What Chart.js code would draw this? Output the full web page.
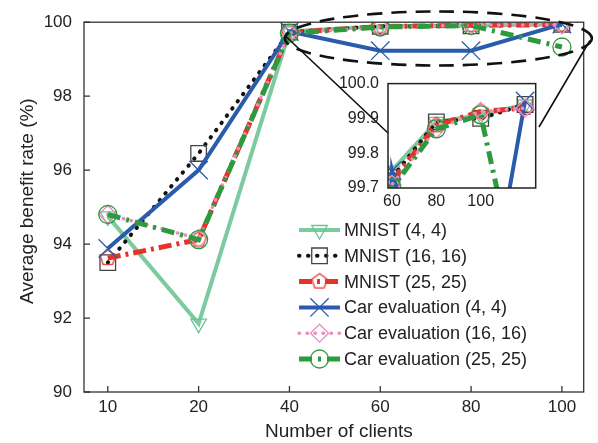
<!DOCTYPE html>
<html>
<head>
<meta charset="utf-8">
<script src="https://cdn.jsdelivr.net/npm/chart.js@4.4.1/dist/chart.umd.min.js"></script>
<style>
  body { margin: 0; background: #fff; }
  #wrap { position: relative; width: 598px; height: 443px; }
  #main { position: absolute; left: 0; top: 0; }
  #inset { position: absolute; left: 330px; top: 65px; }
</style>
</head>
<body>
<div id="wrap">
  <canvas id="main" width="598" height="443"></canvas>
  <canvas id="inset" width="220" height="150"></canvas>
</div>
<script>
// data
const clients = ['10', '20', '40', '60', '80', '100'];
const seriesNames = ['MNIST (4, 4)', 'MNIST (16, 16)', 'MNIST (25, 25)',
  'Car evaluation (4, 4)', 'Car evaluation (16, 16)', 'Car evaluation (25, 25)'];
const mnist4 = [94.75, 91.85, 99.75, 99.89, 99.91, 99.94];
const mnist16 = [93.5, 96.45, 99.73, 99.89, 99.9, 99.94];
const mnist25 = [93.62, 94.12, 99.72, 99.88, 99.92, 99.93];
const car4 = [93.88, 96.0, 99.75, 99.23, 99.23, 99.95];
const car16 = [94.8, 94.15, 99.71, 99.87, 99.92, 99.93];
const car25 = [94.8, 94.12, 99.7, 99.87, 99.91, 99.33];
const yTicks = [90, 92, 94, 96, 98, 100];
const insetYTicks = [99.7, 99.8, 99.9, 100.0];
const insetXTicks = ['60', '80', '100'];

const FONT = '"Liberation Sans", Arial, sans-serif';
const TXT = '#222';

// pentagon marker (no built-in style for it)
function pentagon(color, r) {
  const c = document.createElement('canvas');
  const s = Math.ceil(r * 2 + 4);
  c.width = s; c.height = s;
  const g = c.getContext('2d');
  g.strokeStyle = color; g.lineWidth = 1.3;
  g.beginPath();
  for (let k = 0; k < 5; k++) {
    const a = -Math.PI / 2 + k * 2 * Math.PI / 5;
    const px = s / 2 + r * Math.cos(a), py = s / 2 + r * Math.sin(a);
    k ? g.lineTo(px, py) : g.moveTo(px, py);
  }
  g.closePath(); g.stroke();
  return c;
}

const styles = [
  { color: 'rgba(110,196,150,0.9)', width: 4, dash: [], cap: 'butt', marker: 'triangle', rot: 180, r: 9, mcolor: '#6cc496' },
  { color: '#111', width: 4, dash: [0.5, 8.5], cap: 'round', marker: 'rect', rot: 0, r: 11, mcolor: '#444' },
  { color: '#e6332a', width: 5, dash: [13, 5, 3, 5], cap: 'butt', marker: pentagon('#e6332a', 8), rot: 0, r: 9, mcolor: '#e6332a' },
  { color: '#2b5cab', width: 4, dash: [], cap: 'butt', marker: 'crossRot', rot: 0, r: 13, mcolor: '#2b5cab' },
  { color: '#ee8cc0', width: 3.5, dash: [0.5, 7.5], cap: 'round', marker: 'rectRot', rot: 0, r: 9, mcolor: '#ee8cc0' },
  { color: '#2e9a3e', width: 5, dash: [13, 6, 3, 6], cap: 'butt', marker: 'circle', rot: 0, r: 9, mcolor: '#2e9a3e' }
];
const allValues = [mnist4, mnist16, mnist25, car4, car16, car25];

function datasets() {
  return allValues.map((vals, i) => {
    const s = styles[i];
    return {
      label: seriesNames[i],
      data: vals.map((v, j) => ({ x: j, y: v })),
      borderColor: s.color, borderWidth: s.width, borderDash: s.dash, borderCapStyle: s.cap,
      pointStyle: s.marker, rotation: s.rot, pointRadius: s.r, pointBorderColor: s.mcolor,
      pointBorderWidth: 1.3, pointBackgroundColor: 'rgba(0,0,0,0)',
      tension: 0, fill: false, order: 6 - i
    };
  });
}

function drawMarker(ctx, s, x, y) {
  ctx.save();
  ctx.strokeStyle = s.mcolor; ctx.lineWidth = 1.3; ctx.setLineDash([]);
  const r = s.r;
  ctx.beginPath();
  if (typeof s.marker !== 'string') {
    ctx.drawImage(s.marker, x - s.marker.width / 2, y - s.marker.height / 2);
  } else if (s.marker === 'triangle') {
    for (let k = 0; k < 3; k++) {
      const a = Math.PI / 2 + k * 2 * Math.PI / 3;
      k ? ctx.lineTo(x + r * Math.cos(a), y + r * Math.sin(a)) : ctx.moveTo(x + r * Math.cos(a), y + r * Math.sin(a));
    }
    ctx.closePath(); ctx.stroke();
  } else if (s.marker === 'rect') {
    const h = r * Math.SQRT1_2;
    ctx.rect(x - h, y - h, 2 * h, 2 * h); ctx.stroke();
  } else if (s.marker === 'crossRot') {
    const h = r * Math.SQRT1_2;
    ctx.moveTo(x - h, y - h); ctx.lineTo(x + h, y + h);
    ctx.moveTo(x + h, y - h); ctx.lineTo(x - h, y + h); ctx.stroke();
  } else if (s.marker === 'rectRot') {
    ctx.moveTo(x - r, y); ctx.lineTo(x, y - r); ctx.lineTo(x + r, y); ctx.lineTo(x, y + r);
    ctx.closePath(); ctx.stroke();
  } else if (s.marker === 'circle') {
    ctx.arc(x, y, r, 0, Math.PI * 2); ctx.stroke();
  }
  ctx.restore();
}

// inset box on the page (canvas offset + its chart area)
const INSET = { left: 388, top: 77, right: 539, bottom: 188 };

// box, inward ticks, titles, zoom ellipse, connectors and legend
const decor = {
  id: 'decor',
  afterDraw(chart) {
    const { ctx, chartArea: a, scales: { x, y } } = chart;
    ctx.save();
    ctx.strokeStyle = '#333'; ctx.lineWidth = 1.3; ctx.setLineDash([]);
    ctx.strokeRect(a.left, a.top, a.right - a.left, a.bottom - a.top);
    ctx.beginPath();
    yTicks.forEach(v => { const py = y.getPixelForValue(v); ctx.moveTo(a.left, py); ctx.lineTo(a.left + 6, py); });
    clients.forEach((c, i) => { const px = x.getPixelForValue(i); ctx.moveTo(px, a.bottom); ctx.lineTo(px, a.bottom - 6); });
    ctx.stroke();

    ctx.fillStyle = TXT;
    ctx.font = '19px ' + FONT;
    ctx.textAlign = 'center'; ctx.textBaseline = 'alphabetic';
    ctx.fillText('Number of clients', (a.left + a.right) / 2 + 5, 437);
    ctx.save();
    ctx.translate(33, (a.top + a.bottom) / 2 - 6);
    ctx.rotate(-Math.PI / 2);
    ctx.fillText('Average benefit rate (%)', 0, 0);
    ctx.restore();

    // dashed ellipse around the top-right region
    const ex0 = x.getPixelForValue(1.95), ex1 = x.getPixelForValue(5.33);
    const ecy = y.getPixelForValue(99.56);
    ctx.strokeStyle = '#111'; ctx.lineWidth = 2.6; ctx.setLineDash([15, 9]);
    ctx.beginPath();
    ctx.ellipse((ex0 + ex1) / 2, ecy, (ex1 - ex0) / 2, 27, 0, 0, Math.PI * 2);
    ctx.stroke();
    ctx.setLineDash([]); ctx.lineWidth = 1.6;
    ctx.beginPath();
    ctx.moveTo(ex0, ecy - 3); ctx.lineTo(INSET.left, 133);
    ctx.moveTo(ex1 - 2, ecy + 2); ctx.lineTo(INSET.right, 127);
    ctx.stroke();

    // legend
    ctx.font = '18px ' + FONT;
    ctx.textAlign = 'left'; ctx.textBaseline = 'middle';
    seriesNames.forEach((n, i) => {
      const s = styles[i];
      const ly = 230 + i * 25.8;
      ctx.save();
      ctx.strokeStyle = s.color; ctx.lineWidth = s.width; ctx.lineCap = s.cap;
      ctx.setLineDash(s.dash);
      ctx.beginPath(); ctx.moveTo(299, ly); ctx.lineTo(340, ly); ctx.stroke();
      ctx.restore();
      drawMarker(ctx, s, 319.5, ly);
      ctx.fillStyle = TXT;
      ctx.fillText(n, 344, ly + 1);
    });
    ctx.restore();
  }
};

new Chart(document.getElementById('main'), {
  type: 'line',
  data: { datasets: datasets() },
  options: {
    responsive: false, animation: false, events: [],
    layout: { padding: { top: 20, right: 10, left: 0, bottom: 0 } },
    plugins: { legend: { display: false }, tooltip: { enabled: false } },
    scales: {
      x: {
        type: 'linear', min: -0.262, max: 5.24,
        afterBuildTicks: s => { s.ticks = clients.map((c, i) => ({ value: i })); },
        afterFit: s => { s.height = 51; },
        grid: { display: false, drawTicks: false }, border: { display: false },
        ticks: { callback: v => clients[v], color: TXT, font: { family: FONT, size: 17 }, padding: 5, maxRotation: 0 }
      },
      y: {
        min: 90, max: 100,
        afterBuildTicks: s => { s.ticks = yTicks.map(v => ({ value: v })); },
        afterFit: s => { s.width = 84; },
        grid: { display: false, drawTicks: false }, border: { display: false },
        ticks: { color: TXT, font: { family: FONT, size: 17 }, padding: 12 }
      }
    }
  },
  plugins: [decor]
});

const insetBox = {
  id: 'insetBox',
  afterDraw(chart) {
    const { ctx, chartArea: a } = chart;
    ctx.save();
    ctx.strokeStyle = '#222'; ctx.lineWidth = 1.5;
    ctx.strokeRect(a.left, a.top, a.right - a.left, a.bottom - a.top);
    ctx.restore();
  }
};

new Chart(document.getElementById('inset'), {
  type: 'line',
  data: { datasets: datasets() },
  options: {
    responsive: false, animation: false, events: [],
    layout: { padding: { top: 12, right: 11, left: 0, bottom: 0 } },
    plugins: { legend: { display: false }, tooltip: { enabled: false } },
    scales: {
      x: {
        type: 'linear', min: 1.91, max: 5.24,
        afterBuildTicks: s => { s.ticks = insetXTicks.map((t, i) => ({ value: i + 2 })); },
        afterFit: s => { s.height = 27; },
        grid: { display: false, drawTicks: false }, border: { display: false },
        ticks: { callback: v => insetXTicks[v - 2], color: TXT, font: { family: FONT, size: 16 }, padding: 4, maxRotation: 0 }
      },
      y: {
        min: 99.7, max: 100.0,
        afterBuildTicks: s => { s.ticks = insetYTicks.map(v => ({ value: v })); },
        afterFit: s => { s.width = 58; },
        grid: { display: false, drawTicks: false }, border: { display: false },
        ticks: { callback: v => v.toFixed(1), color: TXT, font: { family: FONT, size: 16 }, padding: 9 }
      }
    }
  },
  plugins: [insetBox]
});
</script>
</body>
</html>
